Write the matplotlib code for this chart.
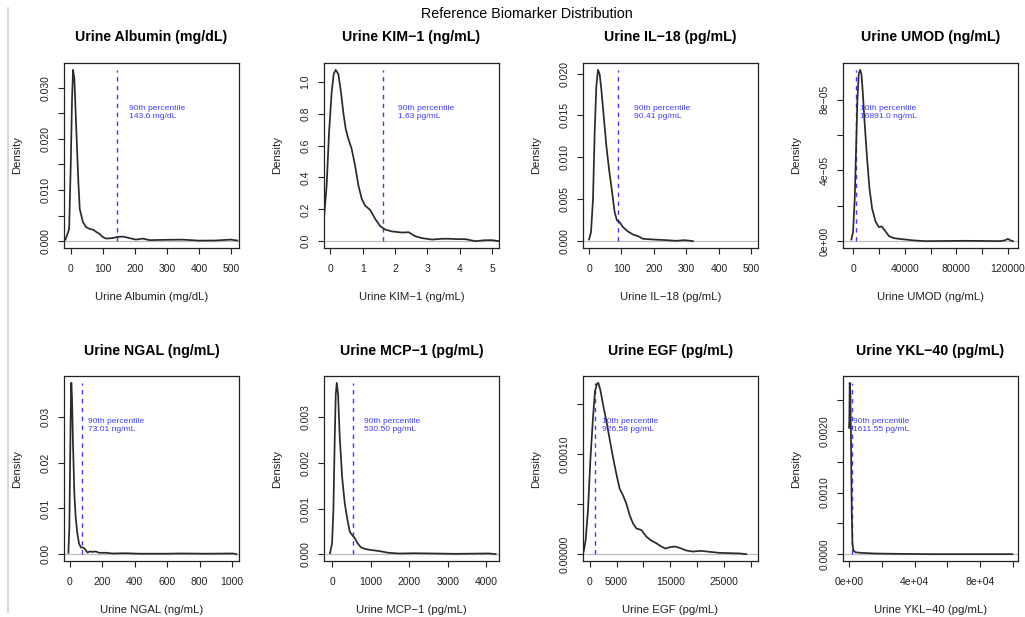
import matplotlib
matplotlib.use("Agg")
import matplotlib.pyplot as plt
from matplotlib.lines import Line2D

plt.rcParams['font.family'] = ['Liberation Sans', 'DejaVu Sans']

# panel titles / axis labels
titles = ["Urine Albumin (mg/dL)", "Urine KIM\u22121 (ng/mL)", "Urine IL\u221218 (pg/mL)",
          "Urine UMOD (ng/mL)", "Urine NGAL (ng/mL)", "Urine MCP\u22121 (pg/mL)",
          "Urine EGF (pg/mL)", "Urine YKL\u221240 (pg/mL)"]

# density curves
albumin_x = [-16.5, -8, -5, 0, 4, 7.2, 11.4, 17.6, 23.8, 28, 38, 48.5, 59, 71, 79.5, 90, 100,
             110.5, 131, 143.6, 162, 183, 203, 224, 245, 296, 348, 400, 451, 498, 519]
albumin_y = [0.0003, 0.0018, 0.0024, 0.0148, 0.0278, 0.0335, 0.0317, 0.0213, 0.0115, 0.0063,
             0.0037, 0.0027, 0.0024, 0.0022, 0.0018, 0.0014, 0.0008, 0.0005, 0.0006, 0.0008,
             0.0009, 0.0006, 0.0003, 0.0005, 0.0002, 0.00026, 0.0003, 0.0001, 0.00013, 0.0003,
             0.00013]

kim_x = [-0.196, -0.114, -0.04, 0.04, 0.103, 0.165, 0.248, 0.33, 0.40, 0.475, 0.558, 0.66,
         0.764, 0.868, 0.97, 1.074, 1.23, 1.384, 1.54, 1.694, 1.9, 2.21, 2.42, 2.62, 2.83,
         3.14, 3.45, 3.66, 3.97, 4.17, 4.48, 4.79, 5.0, 5.21]
kim_y = [0.14, 0.349, 0.683, 0.933, 1.048, 1.075, 1.048, 0.933, 0.808, 0.704, 0.641, 0.578,
         0.474, 0.349, 0.265, 0.223, 0.196, 0.14, 0.094, 0.073, 0.061, 0.054, 0.056, 0.031,
         0.019, 0.010, 0.015, 0.015, 0.0125, 0.0125, 0.0, 0.006, 0.006, 0.0]

il18_x = [0, 6.2, 12.3, 17.5, 22.6, 27.7, 32.9, 38, 45.2, 53.4, 61.6, 69.8, 79, 86.2, 94.5,
          104.7, 120, 135.5, 151, 166, 197, 238, 269, 295, 320]
il18_y = [0.0002, 0.00107, 0.00504, 0.013, 0.01853, 0.02044, 0.0199, 0.0181, 0.01496, 0.01139,
          0.0086, 0.00623, 0.00345, 0.00246, 0.00226, 0.00167, 0.00115, 0.00079, 0.0006,
          0.00028, 0.0002, 0.00012, 0.00004, 0.00012, 0.0]

umod_x = [-1300, 0, 1300, 2340, 3380, 4415, 5450, 6490, 7530, 9090, 10900, 12725, 14800, 17400,
          20000, 22075, 24670, 27790, 31680, 35580, 40770, 47265, 56350, 87500, 113500, 117400,
          120000, 122000, 123900]
umod_y = [0.94e-6, 5.1e-6, 2.39e-5, 5.21e-5, 8.04e-5, 9.45e-5, 9.675e-5, 9.45e-5, 8.41e-5,
          6.53e-5, 4.65e-5, 2.96e-5, 1.83e-5, 1.11e-5, 7.9e-6, 8.3e-6, 6.0e-6, 2.8e-6, 1.7e-6,
          1.3e-6, 0.9e-6, 0.4e-6, 0.0, 0.2e-6, 0.0, 0.4e-6, 1.3e-6, 0.4e-6, 0.0]

ngal_x = [-10, -4, 2, 6, 8.3, 12.4, 18.6, 26.9, 35, 45.5, 55.8, 68.2, 80.6, 93, 107.4, 122,
          138.4, 159, 180, 221, 262, 345, 428, 593, 686, 841, 1006, 1027]
ngal_y = [0.0003, 0.0059, 0.024, 0.0349, 0.0375, 0.0342, 0.024, 0.0132, 0.0081, 0.0045, 0.0023,
          0.00145, 0.00145, 0.0011, 0.00036, 0.00058, 0.0005, 0.00058, 0.0003, 0.0003, 0.00015,
          0.0002, 0.0001, 0.0001, 0.00015, 0.0001, 0.00015, 0.0]

mcp_x = [-52, 0, 35, 70, 96, 122, 156.5, 200, 261, 330, 400, 461, 522, 591, 661, 748, 852, 983,
         1113, 1287, 1461, 1722, 2157, 2591, 3200, 4070, 4243]
mcp_y = [0.00002, 0.00024, 0.00097, 0.00256, 0.00351, 0.00376, 0.00351, 0.00256, 0.00169,
         0.00111, 0.00075, 0.00049, 0.00042, 0.00035, 0.00024, 0.00015, 0.000116, 0.000094,
         0.00008, 0.000058, 0.00003, 0.000015, 0.00002, 0.000015, 0.000007, 0.000015, 0.0]

egf_x = [-1118, -745, -310, 124, 621, 994, 1366, 1615, 1987, 2484, 3105, 3726, 4347, 4968, 5589,
         6210, 6831, 7452, 8073, 8694, 9626, 10557, 11489, 12420, 13350, 14160, 14900, 15836,
         16767, 18009, 19250, 20800, 22356, 24220, 26082, 27945, 29187]
egf_y = [2.6e-6, 1.42e-5, 4.39e-5, 9.34e-5, 1.363e-4, 1.627e-4, 1.70e-4, 1.71e-4, 1.64e-4,
         1.495e-4, 1.33e-4, 1.148e-4, 9.67e-5, 8.02e-5, 6.53e-5, 5.87e-5, 5.05e-5, 3.89e-5,
         3.07e-5, 2.57e-5, 2.41e-5, 1.75e-5, 1.35e-5, 1.09e-5, 7.6e-6, 5.6e-6, 6.9e-6, 7.6e-6,
         6.3e-6, 3.6e-6, 2.6e-6, 3.3e-6, 2.3e-6, 1.3e-6, 1.0e-6, 0.7e-6, 0.0]

ykl_x = [-200, 0, 205, 615, 1025, 1436, 1846, 2461, 3692, 7794, 16000, 30355, 50865, 99700]
ykl_y = [0.00205, 0.00221, 0.00278, 0.00264, 0.00179, 0.00071, 0.00018, 0.00006, 0.00003,
         0.00002, 0.00001, 0.000005, 0.0, 0.0]

curves_x = [albumin_x, kim_x, il18_x, umod_x, ngal_x, mcp_x, egf_x, ykl_x]
curves_y = [albumin_y, kim_y, il18_y, umod_y, ngal_y, mcp_y, egf_y, ykl_y]

# percentile cut-offs and their labels
cutoffs = [143.6, 1.63, 90.41, 2600, 73.01, 530.5, 926.58, 1611.55]
cut_names = ["90th percentile", "90th percentile", "90th percentile", "10th percentile",
             "90th percentile", "90th percentile", "10th percentile", "90th percentile"]
cut_values = ["143.6 mg/dL", "1.63 pg/mL", "90.41 pg/mL", "16891.0 ng/mL",
              "73.01 ng/mL", "530.50 pg/mL", "926.58 pg/mL", "1611.55 pg/mL"]
label_x = [180.8, 2.09, 137.6, 5200, 113.6, 817, 2360, 2050]

# x ranges of each panel
x_ranges = [(-21, 524), (-0.196, 5.21), (-18.5, 520.5), (-7790, 127770),
            (-37, 1043), (-209, 4330), (-1242, 31360), (-3897, 103166)]

# ticks and tick labels
x_ticks = [[0, 100, 200, 300, 400, 500], [0, 1, 2, 3, 4, 5], [0, 100, 200, 300, 400, 500],
           [0, 20000, 40000, 60000, 80000, 100000, 120000], [0, 200, 400, 600, 800, 1000],
           [0, 1000, 2000, 3000, 4000], [0, 5000, 10000, 15000, 20000, 25000, 30000],
           [0, 20000, 40000, 60000, 80000, 100000]]
x_labels = [["0", "100", "200", "300", "400", "500"], ["0", "1", "2", "3", "4", "5"],
            ["0", "100", "200", "300", "400", "500"],
            ["0", "", "40000", "", "80000", "", "120000"],
            ["0", "200", "400", "600", "800", "1000"], ["0", "1000", "2000", "3000", "4000"],
            ["0", "5000", "", "15000", "", "25000", ""],
            ["0e+00", "", "4e+04", "", "8e+04", ""]]
y_ticks = [[0, 0.005, 0.010, 0.015, 0.020, 0.025, 0.030], [0, 0.2, 0.4, 0.6, 0.8, 1.0],
           [0, 0.005, 0.010, 0.015, 0.020], [0, 2e-5, 4e-5, 6e-5, 8e-5],
           [0, 0.01, 0.02, 0.03], [0, 0.001, 0.002, 0.003], [0, 5e-5, 1e-4, 1.5e-4],
           [0, 0.0005, 0.001, 0.0015, 0.002, 0.0025]]
y_labels = [["0.000", "", "0.010", "", "0.020", "", "0.030"],
            ["0.0", "0.2", "0.4", "0.6", "0.8", "1.0"],
            ["0.000", "0.005", "0.010", "0.015", "0.020"],
            ["0e+00", "", "4e\u221205", "", "8e\u221205"],
            ["0.00", "0.01", "0.02", "0.03"], ["0.000", "0.001", "0.002", "0.003"],
            ["0.00000", "", "0.00010", ""],
            ["0.0000", "", "0.0010", "", "0.0020", ""]]

W, H = 1025, 617
fig = plt.figure(figsize=(W / 100, H / 100), dpi=100)
lefts = [64, 324, 583, 843]
tops = [63, 376]
aw, ah = 175, 185
box = '#222222'
blue = '#3c3cff'

fig.text(527 / W, 1 - 14.5 / H, "Reference Biomarker Distribution", ha='center', va='center',
         fontsize=10.3)
fig.add_artist(Line2D([8 / W, 8 / W], [1 - 8 / H, 1 - 612 / H], color='#d0d0d0', lw=1.2))

for i in range(8):
    r, c = divmod(i, 4)
    ax = fig.add_axes([lefts[c] / W, 1 - (tops[r] + ah) / H, aw / W, ah / H])
    xs, ys = curves_x[i], curves_y[i]
    peak = max(ys)
    ax.axhline(0, color='#bebebe', lw=0.9, zorder=1)
    ax.plot(xs, ys, color='#2a2a2a', lw=1.25, zorder=3)
    ax.plot([cutoffs[i], cutoffs[i]], [0, peak], color=blue, lw=1.0,
            dashes=(3.2, 3.2), zorder=2)
    ax.text(label_x[i], 0.75 * peak, cut_names[i] + "\n" + cut_values[i], color=blue,
            fontsize=6.1, ha='left', va='center', linespacing=1.15, zorder=4)
    ax.set_xlim(*x_ranges[i])
    ax.set_ylim(-0.04 * peak, 1.04 * peak)
    ax.set_xticks(x_ticks[i])
    ax.set_xticklabels(x_labels[i])
    ax.set_yticks(y_ticks[i])
    ax.set_yticklabels(y_labels[i], rotation=90, va='center')
    ax.tick_params(direction='out', length=4.3, width=0.8, color=box, labelsize=7.5,
                   labelcolor='#222222')
    ax.tick_params(axis='x', pad=7.5)
    ax.tick_params(axis='y', pad=5.5)
    for s in ax.spines.values():
        s.set_color(box)
        s.set_linewidth(0.9)
    ax.text(0.5, 1 + 25.5 / ah, titles[i], transform=ax.transAxes, ha='center', va='center',
            fontsize=10.2, fontweight='bold')
    ax.text(0.5, -49 / ah, titles[i], transform=ax.transAxes, ha='center', va='center',
            fontsize=8.2, color='#222222')
    ax.text(-46.5 / aw, 0.5, "Density", transform=ax.transAxes, ha='center', va='center',
            rotation=90, fontsize=8.2, color='#222222')

fig.savefig("out.png", dpi=100)
